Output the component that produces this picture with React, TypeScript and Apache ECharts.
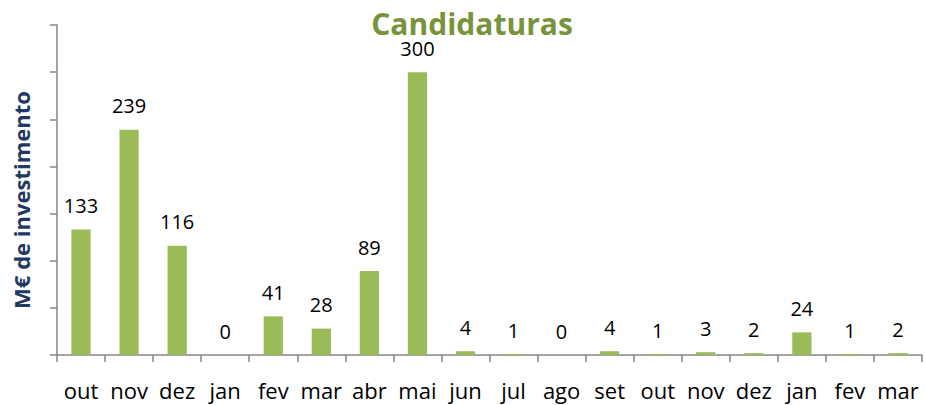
import React, { useEffect, useRef } from "react";
import * as echarts from "echarts";

const categories = ["out", "nov", "dez", "jan", "fev", "mar", "abr", "mai", "jun", "jul", "ago", "set", "out", "nov", "dez", "jan", "fev", "mar"];
const values = [133, 239, 116, 0, 41, 28, 89, 300, 4, 1, 0, 4, 1, 3, 2, 24, 1, 2];
const titleText = "Candidaturas";
const yAxisName = "M€ de investimento";

export default function App() {
  const ref = useRef<HTMLDivElement>(null);
  useEffect(() => {
    if (!ref.current) return;
    const chart = echarts.init(ref.current, null, { renderer: "svg" });
    chart.setOption({
      animation: false,
      title: {
        text: titleText,
        left: 467,
        textAlign: "center",
        top: 3,
        textStyle: { color: "#77933C", fontSize: 30, fontWeight: "bold", fontFamily: "Open Sans" },
      },
      graphic: [
        {
          type: "text",
          x: 21,
          y: 200,
          rotation: Math.PI / 2,
          style: {
            text: yAxisName,
            fill: "#1F3864",
            font: "bold 22px 'Open Sans'",
            textAlign: "center",
            textVerticalAlign: "middle",
          },
        },
      ],
      grid: { left: 57, right: 3, top: 25, bottom: 50, containLabel: false },
      xAxis: {
        type: "category",
        data: categories,
        axisLine: { lineStyle: { color: "#868686", width: 1.5 } },
        axisTick: { show: true, length: 7, lineStyle: { color: "#868686", width: 1.5 }, alignWithLabel: false },
        axisLabel: { color: "#000", fontSize: 22, fontFamily: "Open Sans", margin: 24, interval: 0 },
      },
      yAxis: {
        type: "value",
        min: 0,
        max: 350,
        interval: 50,
        axisLine: { show: true, lineStyle: { color: "#868686", width: 1.5 } },
        axisTick: { show: true, length: 7, lineStyle: { color: "#868686", width: 1.5 } },
        axisLabel: { show: false },
        splitLine: { show: false },
      },
      series: [
        {
          type: "bar",
          data: values,
          barWidth: "40%",
          itemStyle: { color: "#9BBB59" },
          label: {
            show: true,
            position: "top",
            distance: 14,
            color: "#000",
            fontSize: 20,
            fontFamily: "Open Sans",
          },
        },
      ],
    });
    return () => chart.dispose();
  }, []);
  return <div ref={ref} style={{ width: 925, height: 405, position: "absolute", left: 0, top: 0 }} />;
}
